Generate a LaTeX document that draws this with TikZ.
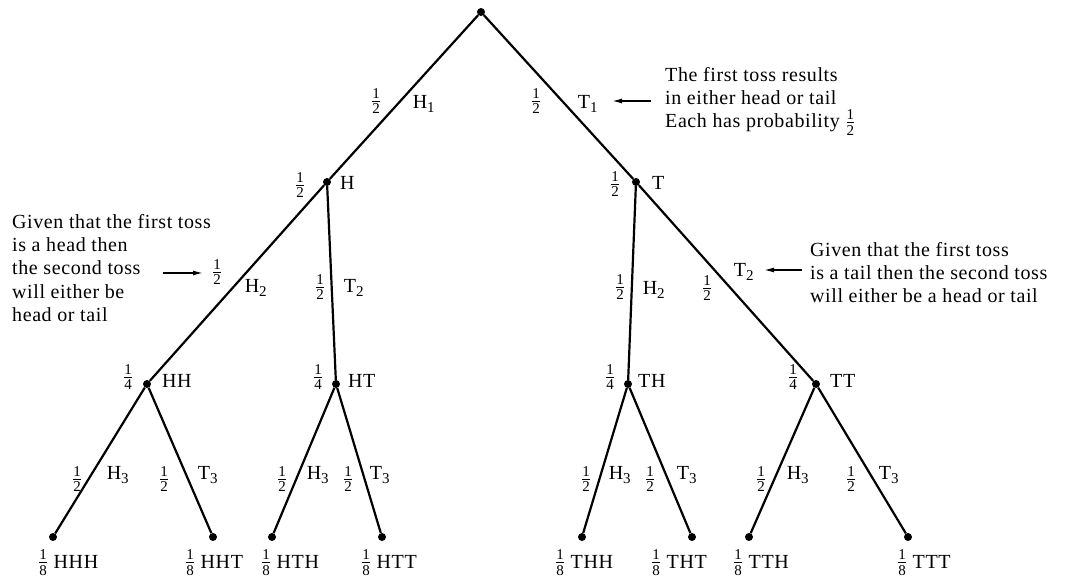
\documentclass[tikz,border=0pt]{standalone}
\usepackage{amsmath}
\usepackage{fontspec}
\setmainfont{Liberation Serif}[LetterSpace=3]
\usetikzlibrary{arrows.meta}
\DeclareMathSizes{20}{20}{15}{11}
\newcommand{\pfrac}[2]{$\tfrac{\textrm{#1}}{\textrm{#2}}$}
\newcommand{\ssub}[1]{$_{\textrm{#1}}$}

\begin{document}
\begin{tikzpicture}[x=1pt, y=-1pt,
    font=\fontsize{20}{23.3}\selectfont,
    dot/.style={circle, fill=black, inner sep=0pt, minimum size=8pt},
    branch/.style={line width=2.2pt},
    prob/.style={inner sep=0pt},
    tag/.style={inner sep=0pt},
    leaf/.style={inner sep=0pt, anchor=base west},
    note/.style={inner sep=0pt, anchor=north west, align=left},
    pointer/.style={-{Latex[length=10pt, width=5pt]}, line width=1.4pt},
]
  \useasboundingbox (0,0) rectangle (1075,578);

  % tree points
  \node[dot] (root) at (481,12)  {};
  \node[dot] (h)    at (327,182) {};
  \node[dot] (t)    at (636,182) {};
  \node[dot] (hh)   at (147,384) {};
  \node[dot] (ht)   at (336,384) {};
  \node[dot] (th)   at (628,384) {};
  \node[dot] (tt)   at (816,384) {};
  \node[dot] (hhh)  at (53,537)  {};
  \node[dot] (hht)  at (213,537) {};
  \node[dot] (hth)  at (272,537) {};
  \node[dot] (htt)  at (382,537) {};
  \node[dot] (thh)  at (582,537) {};
  \node[dot] (tht)  at (692,537) {};
  \node[dot] (tth)  at (749,537) {};
  \node[dot] (ttt)  at (908,537) {};

  \draw[branch] (root) -- (h);
  \draw[branch] (root) -- (t);
  \draw[branch] (h) -- (hh);
  \draw[branch] (h) -- (ht);
  \draw[branch] (t) -- (th);
  \draw[branch] (t) -- (tt);
  \draw[branch] (hh) -- (hhh);
  \draw[branch] (hh) -- (hht);
  \draw[branch] (ht) -- (hth);
  \draw[branch] (ht) -- (htt);
  \draw[branch] (th) -- (thh);
  \draw[branch] (th) -- (tht);
  \draw[branch] (tt) -- (tth);
  \draw[branch] (tt) -- (ttt);

  % branch labels, first toss
  \node[prob] (pH1) at (376,101) {\pfrac12};
  \node[tag]  (lH1) at (424,104) {H\ssub1};
  \node[prob] (pT1) at (536,101) {\pfrac12};
  \node[tag]  (lT1) at (588,104) {T\ssub1};

  % second toss
  \node[prob] (pH2a) at (217,272) {\pfrac12};
  \node[tag]  (lH2a) at (256,288) {H\ssub2};
  \node[prob] (pT2a) at (320,287) {\pfrac12};
  \node[tag]  (lT2a) at (354,288) {T\ssub2};
  \node[prob] (pH2b) at (620,287) {\pfrac12};
  \node[tag]  (lH2b) at (654,290) {H\ssub2};
  \node[prob] (pT2b) at (707,288) {\pfrac12};
  \node[tag]  (lT2b) at (744,272) {T\ssub2};

  % third toss
  \node[prob] (pH3a) at (77,479)  {\pfrac12};
  \node[tag]  (lH3a) at (118,475) {H\ssub3};
  \node[prob] (pT3a) at (164,479) {\pfrac12};
  \node[tag]  (lT3a) at (208,475) {T\ssub3};
  \node[prob] (pH3b) at (282,479) {\pfrac12};
  \node[tag]  (lH3b) at (318,475) {H\ssub3};
  \node[prob] (pT3b) at (348,479) {\pfrac12};
  \node[tag]  (lT3b) at (380,475) {T\ssub3};
  \node[prob] (pH3c) at (586,479) {\pfrac12};
  \node[tag]  (lH3c) at (620,475) {H\ssub3};
  \node[prob] (pT3c) at (650,479) {\pfrac12};
  \node[tag]  (lT3c) at (687,475) {T\ssub3};
  \node[prob] (pH3d) at (761,479) {\pfrac12};
  \node[tag]  (lH3d) at (798,475) {H\ssub3};
  \node[prob] (pT3d) at (851,479) {\pfrac12};
  \node[tag]  (lT3d) at (889,475) {T\ssub3};

  % outcomes of the inner points
  \node[prob] (qh)  at (300,185) {\pfrac12};
  \node[tag, anchor=west] (nh)  at (340,183) {H};
  \node[prob] (qt)  at (615,184) {\pfrac12};
  \node[tag, anchor=west] (nt)  at (652,183) {T};
  \node[prob] (qhh) at (128,377) {\pfrac14};
  \node[tag, anchor=west] (nhh) at (162,381) {HH};
  \node[prob] (qht) at (318,377) {\pfrac14};
  \node[tag, anchor=west] (nht) at (348,381) {HT};
  \node[prob] (qth) at (610,377) {\pfrac14};
  \node[tag, anchor=west] (nth) at (638,381) {TH};
  \node[prob] (qtt) at (793,377) {\pfrac14};
  \node[tag, anchor=west] (ntt) at (830,381) {TT};

  % leaves
  \node[leaf] (ohhh) at (38,568)  {\pfrac18 HHH};
  \node[leaf] (ohht) at (185,568) {\pfrac18 HHT};
  \node[leaf] (ohth) at (261,568) {\pfrac18 HTH};
  \node[leaf] (ohtt) at (361,568) {\pfrac18 HTT};
  \node[leaf] (othh) at (555,568) {\pfrac18 THH};
  \node[leaf] (otht) at (651,568) {\pfrac18 THT};
  \node[leaf] (otth) at (733,568) {\pfrac18 TTH};
  \node[leaf] (ottt) at (897,568) {\pfrac18 TTT};

  % comments beside the tree
  \node[note] (first) at (665,67)
    {The first toss results\\in either head or tail\\Each has probability \pfrac12};
  \node[note] (headnote) at (12,214)
    {Given that the first toss\\is a head then\\the second toss\\will either be\\head or tail};
  \node[note] (tailnote) at (810,242)
    {Given that the first toss\\is a tail then the second toss\\will either be a head or tail};

  \coordinate (a1s) at (651,101);
  \coordinate (a1e) at (612,101);
  \coordinate (a2s) at (163,273);
  \coordinate (a2e) at (203,273);
  \coordinate (a3s) at (802,270);
  \coordinate (a3e) at (764,270);
  \draw[pointer] (a1s) -- (a1e);
  \draw[pointer] (a2s) -- (a2e);
  \draw[pointer] (a3s) -- (a3e);
\end{tikzpicture}
\end{document}
